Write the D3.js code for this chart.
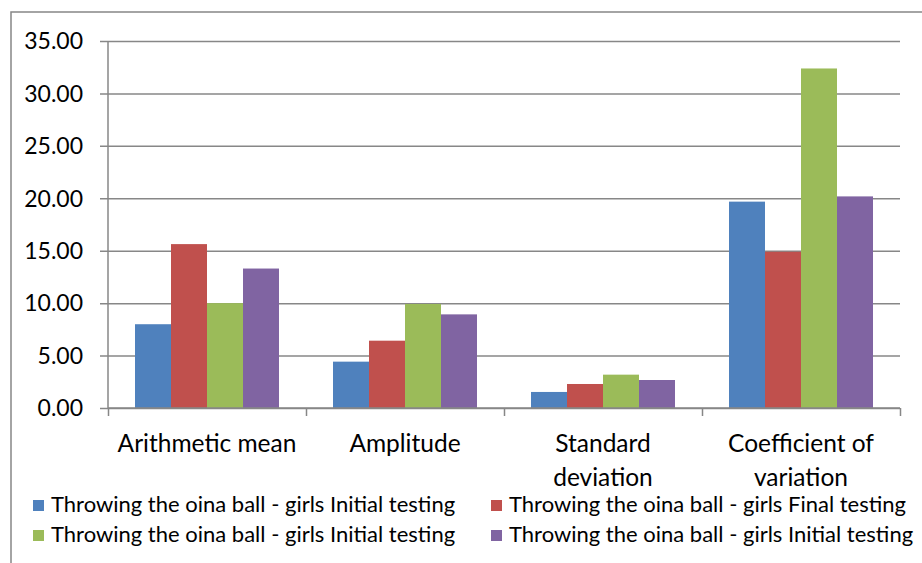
<!DOCTYPE html>
<html>
<head>
<meta charset="utf-8">
<script src="https://cdn.jsdelivr.net/npm/d3@7"></script>
<style>
  html, body { margin: 0; padding: 0; background: #fff; }
  svg { display: block; }
  text { font-family: Lato, "Open Sans", sans-serif; fill: #000; }
</style>
</head>
<body>
<svg id="chart" width="922" height="563"></svg>
<script>
const categories = ["Arithmetic mean", "Amplitude", "Standard deviation", "Coefficient of variation"];
const categoryLines = [["Arithmetic mean"], ["Amplitude"], ["Standard", "deviation"], ["Coefficient of", "variation"]];
const seriesNames = [
  "Throwing the oina ball - girls Initial testing",
  "Throwing the oina ball - girls Final testing",
  "Throwing the oina ball - girls Initial testing",
  "Throwing the oina ball - girls Initial testing"
];
const series1 = [7.99, 4.42, 1.53, 19.68];
const series2 = [15.63, 6.42, 2.29, 14.90];
const series3 = [10.00, 9.92, 3.18, 32.38];
const series4 = [13.30, 8.93, 2.67, 20.18];
const seriesValues = [series1, series2, series3, series4];
const seriesColors = ["#4F81BD", "#C0504D", "#9BBB59", "#8064A2"];
const yTicks = [0, 5, 10, 15, 20, 25, 30, 35];

const svg = d3.select("#chart");
const gridColor = "#878787";

// outer frame
svg.append("rect")
  .attr("x", 11).attr("y", 12)
  .attr("width", 940).attr("height", 600)
  .attr("fill", "none").attr("stroke", gridColor).attr("stroke-width", 1.5);

const plot = { left: 108, right: 900, top: 41, bottom: 408 };

const y = d3.scaleLinear().domain([0, 35]).range([plot.bottom, plot.top]);
const x0 = d3.scaleBand().domain(d3.range(categories.length)).range([plot.left, plot.right]).paddingInner(0).paddingOuter(0);
const x1 = d3.scaleBand().domain(d3.range(seriesNames.length)).range([0, x0.bandwidth()]).paddingInner(0).paddingOuter(0.75);

// gridlines
const yAxis = d3.axisLeft(y).tickValues(yTicks).tickSize(-(plot.right - plot.left)).tickPadding(0).tickFormat(d3.format(".2f"));
const gy = svg.append("g").attr("transform", `translate(${plot.left},0)`).call(yAxis);
gy.select(".domain").remove();
gy.selectAll(".tick line").attr("stroke", gridColor).attr("stroke-width", 1.5).attr("x1", -8);
gy.selectAll(".tick text").remove();

// y labels
svg.append("g").selectAll("text").data(yTicks).join("text")
  .attr("x", 83).attr("y", d => y(d))
  .attr("dy", "0.36em")
  .attr("text-anchor", "end")
  .style("font-size", "23px")
  .text(d3.format(".2f"));

// bars
const groups = svg.append("g").selectAll("g").data(categories).join("g")
  .attr("transform", (d, i) => `translate(${x0(i)},0)`);
groups.selectAll("rect").data((d, ci) => seriesValues.map((vals, si) => ({ si, v: vals[ci] }))).join("rect")
  .attr("x", d => x1(d.si))
  .attr("width", x1.bandwidth())
  .attr("y", d => y(d.v))
  .attr("height", d => y(0) - y(d.v))
  .attr("fill", d => seriesColors[d.si]);

// y axis line
svg.append("line").attr("x1", plot.left).attr("x2", plot.left).attr("y1", plot.top).attr("y2", plot.bottom)
  .attr("stroke", gridColor).attr("stroke-width", 1.5);

// x axis
const xAxis = d3.axisBottom(d3.scaleLinear().domain([0, categories.length]).range([plot.left, plot.right]))
  .tickValues(d3.range(categories.length + 1)).tickSize(8).tickFormat("");
const gx = svg.append("g").attr("transform", `translate(0,${plot.bottom})`).call(xAxis);
gx.select(".domain").attr("stroke", gridColor).attr("stroke-width", 1.5).attr("d", `M${plot.left},0H${plot.right}`);
gx.selectAll(".tick line").attr("stroke", gridColor).attr("stroke-width", 1.5);

// category labels
const cl = svg.append("g").selectAll("text").data(categoryLines).join("text")
  .attr("text-anchor", "middle")
  .style("font-size", "24.5px");
cl.each(function(lines, i) {
  d3.select(this).selectAll("tspan").data(lines).join("tspan")
    .attr("x", x0(i) + x0.bandwidth() / 2)
    .attr("y", (d, j) => 452 + j * 34)
    .text(d => d);
});

// legend
const legendPos = [[33, 505], [491, 505], [33, 535], [491, 535]];
const lg = svg.append("g").selectAll("g").data(seriesNames).join("g")
  .attr("transform", (d, i) => `translate(${legendPos[i][0]},${legendPos[i][1]})`);
lg.append("rect").attr("x", 0).attr("y", -5).attr("width", 11).attr("height", 11)
  .attr("fill", (d, i) => seriesColors[i]);
lg.append("text").attr("x", 18).attr("y", 0).attr("dy", "0.34em")
  .style("font-size", "22px")
  .text(d => d);
</script>
</body>
</html>
